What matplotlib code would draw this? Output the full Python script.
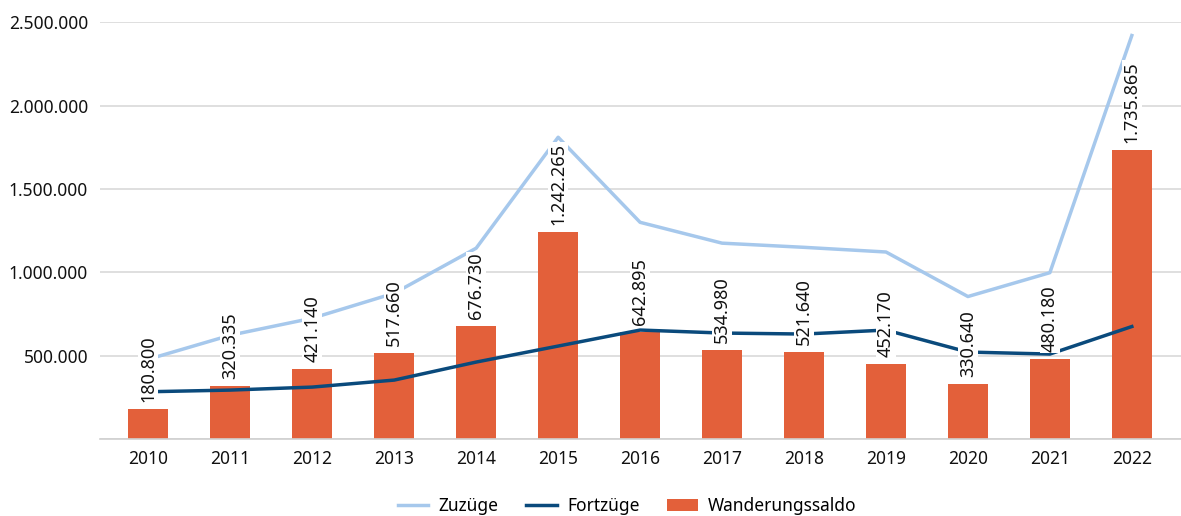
import matplotlib.pyplot as plt
from matplotlib.ticker import FuncFormatter, MultipleLocator

plt.rcParams["font.family"] = ["Noto Sans", "DejaVu Sans"]

years = ["2010", "2011", "2012", "2013", "2014", "2015", "2016",
         "2017", "2018", "2019", "2020", "2021", "2022"]
zuzuege = [479000, 623000, 725000, 875000, 1145000, 1810000, 1300000,
           1175000, 1150000, 1122000, 855000, 998000, 2420000]
fortzuege = [284000, 294000, 312000, 354000, 462000, 558000, 654000,
             636000, 630000, 654000, 522000, 510000, 675000]
saldo = [180800, 320335, 421140, 517660, 676730, 1242265, 642895,
         534980, 521640, 452170, 330640, 480180, 1735865]
saldo_labels = ["180.800", "320.335", "421.140", "517.660", "676.730", "1.242.265",
                "642.895", "534.980", "521.640", "452.170", "330.640", "480.180",
                "1.735.865"]

COLOR_BAR = "#E3603A"
COLOR_ZU = "#A6C8EC"
COLOR_FORT = "#0A4A7C"


def de_fmt(v, _pos):
    if v <= 0:
        return ""
    return f"{v:,.0f}".replace(",", ".")


fig = plt.figure(figsize=(11.81, 5.16), dpi=100)
ax = fig.add_axes([0.0847, 0.149, 0.9153, 0.808])

x = list(range(len(years)))
ax.bar(x, saldo, width=0.49, color=COLOR_BAR, label="Wanderungssaldo", zorder=2)
ax.plot(x, zuzuege, color=COLOR_ZU, linewidth=2.5, label="Zuzüge", zorder=3)
ax.plot(x, fortzuege, color=COLOR_FORT, linewidth=2.5, label="Fortzüge", zorder=3)

for xi, val, lab in zip(x, saldo, saldo_labels):
    ax.annotate(lab, xy=(xi, val), xytext=(0, 5), textcoords="offset points",
                rotation=90, ha="center", va="bottom", fontsize=13, color="#111111",
                bbox={"boxstyle": "square,pad=0.05", "facecolor": "white", "edgecolor": "none"},
                zorder=5)

ax.set_ylim(0, 2500000)
ax.set_xlim(-0.59, 12.6)
ax.yaxis.set_major_locator(MultipleLocator(500000))
ax.yaxis.set_major_formatter(FuncFormatter(de_fmt))
ax.set_xticks(x)
ax.set_xticklabels(years)
ax.tick_params(axis="both", length=0, labelsize=12.5, colors="#111111")
ax.tick_params(axis="y", pad=8.6)
ax.tick_params(axis="x", pad=8)
ax.grid(True, axis="y", color="#d9d9d9", linewidth=1.2, zorder=0)
ax.set_axisbelow(True)
for side in ["top", "right", "left"]:
    ax.spines[side].set_visible(False)
ax.spines["bottom"].set_color("#d0d0d0")
ax.spines["bottom"].set_linewidth(1.2)

handles, labels = ax.get_legend_handles_labels()
order = [labels.index("Zuzüge"), labels.index("Fortzüge"), labels.index("Wanderungssaldo")]
fig.legend([handles[i] for i in order], [labels[i] for i in order],
           loc="center", bbox_to_anchor=(0.531, 0.02), ncol=3, frameon=False,
           fontsize=12.5, handlelength=1.75, handletextpad=0.6, columnspacing=1.6)

fig.savefig("out.png", dpi=100)
